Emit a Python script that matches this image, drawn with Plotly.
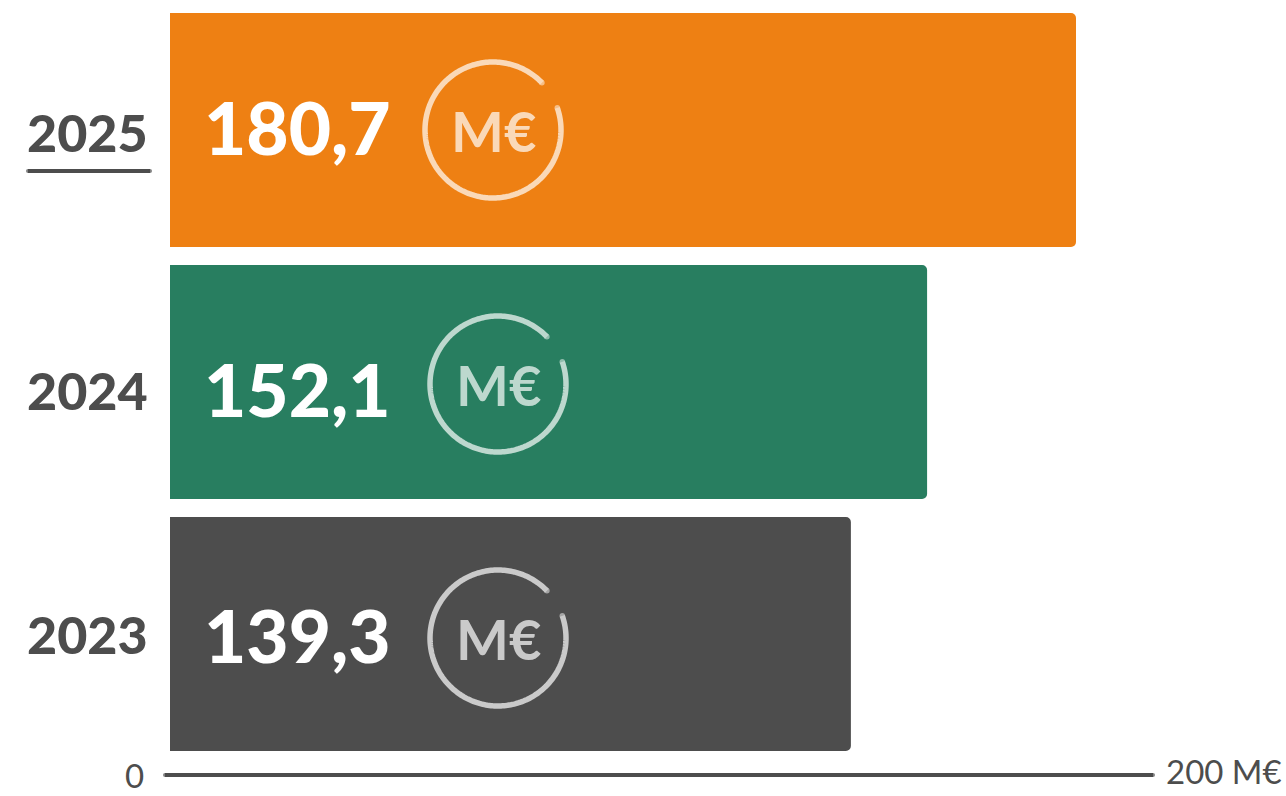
import numpy as np
import plotly.graph_objects as go

# Data
years = [2025, 2024, 2023]
year_labels = ["2025", "2024", "2023"]
bar_lengths = [180.7, 151.0, 135.8]   # lengths as drawn in the picture
value_labels = ["180,7", "152,1", "139,3"]
bar_colors = ["#EE8013", "#287E60", "#4D4D4D"]
ring_colors = ["#FAD9B8", "#BDD8CE", "#CACACA"]
axis_labels = ["0", "200 M€"]

# Layout constants (pixels)
W, H = 1286, 796
X0 = 170
PX_PER_UNIT = 906 / 180.7
ROW = 252
Y_2025 = 130
TEXT = "#4D4D4D"


def dx(px):
    return (np.asarray(px, dtype=float) - X0) / PX_PER_UNIT


def dy(py):
    return 2025 - (np.asarray(py, dtype=float) - Y_2025) / ROW


ring_centers = [(493, 130), (498, 384), (498, 638)]
value_y = [127, 389, 635]
year_y = [132, 390, 634]
icon_text_y = [130, 384, 638]

fig = go.Figure()
fig.add_trace(go.Bar(
    y=years, x=bar_lengths, orientation="h", width=234 / ROW,
    marker=dict(color=bar_colors, line_width=0, cornerradius=5),
    hoverinfo="skip",
))


def stroke(xs, ys, col, width):
    sizes = [width] + [0] * (len(xs) - 2) + [width]
    fig.add_trace(go.Scatter(
        x=dx(xs), y=dy(ys), mode="lines+markers",
        line=dict(color=col, width=width, simplify=False),
        marker=dict(color=col, size=sizes, line_width=0),
        hoverinfo="skip",
    ))


theta = np.radians(np.linspace(19, -316, 240))
R = 68
for (cx, cy), col in zip(ring_centers, ring_colors):
    stroke(cx + R * np.cos(theta), cy - R * np.sin(theta), col, 5.5)

stroke([165, 1153], [775, 775], TEXT, 4)
stroke([28, 150], [171, 171], TEXT, 4)

ann = []
for i in range(3):
    ann.append(dict(x=dx(149.5), y=dy(year_y[i]), text=year_labels[i], xanchor="right",
                    font=dict(family="Lato", size=52, color=TEXT, weight=900)))
    ann.append(dict(x=dx(202), y=dy(value_y[i]), text=value_labels[i], xanchor="left",
                    font=dict(family="Lato", size=73, color="#FFFFFF", weight=900)))
    ann.append(dict(x=dx(ring_centers[i][0]), y=dy(icon_text_y[i]), text="M€", xanchor="center",
                    font=dict(family="Lato", size=56, color=ring_colors[i], weight=700)))
ann.append(dict(x=dx(134), y=dy(775), text=axis_labels[0], xanchor="center",
                font=dict(family="Lato", size=33, color=TEXT)))
ann.append(dict(x=dx(1164), y=dy(771), text=axis_labels[1], xanchor="left",
                font=dict(family="Lato", size=33, color=TEXT)))
for a in ann:
    a.update(xref="x", yref="y", showarrow=False, yanchor="middle")

fig.update_layout(
    width=W, height=H, margin=dict(l=0, r=0, t=0, b=0),
    paper_bgcolor="#FFFFFF", plot_bgcolor="#FFFFFF", showlegend=False,
    xaxis=dict(range=[float(dx(0)), float(dx(W))], visible=False),
    yaxis=dict(range=[float(dy(H)), float(dy(0))], visible=False),
    annotations=ann,
)
fig.write_html("out.html", config={"displayModeBar": False},
               post_script="document.body.style.margin='0';document.body.style.overflow='hidden';")
